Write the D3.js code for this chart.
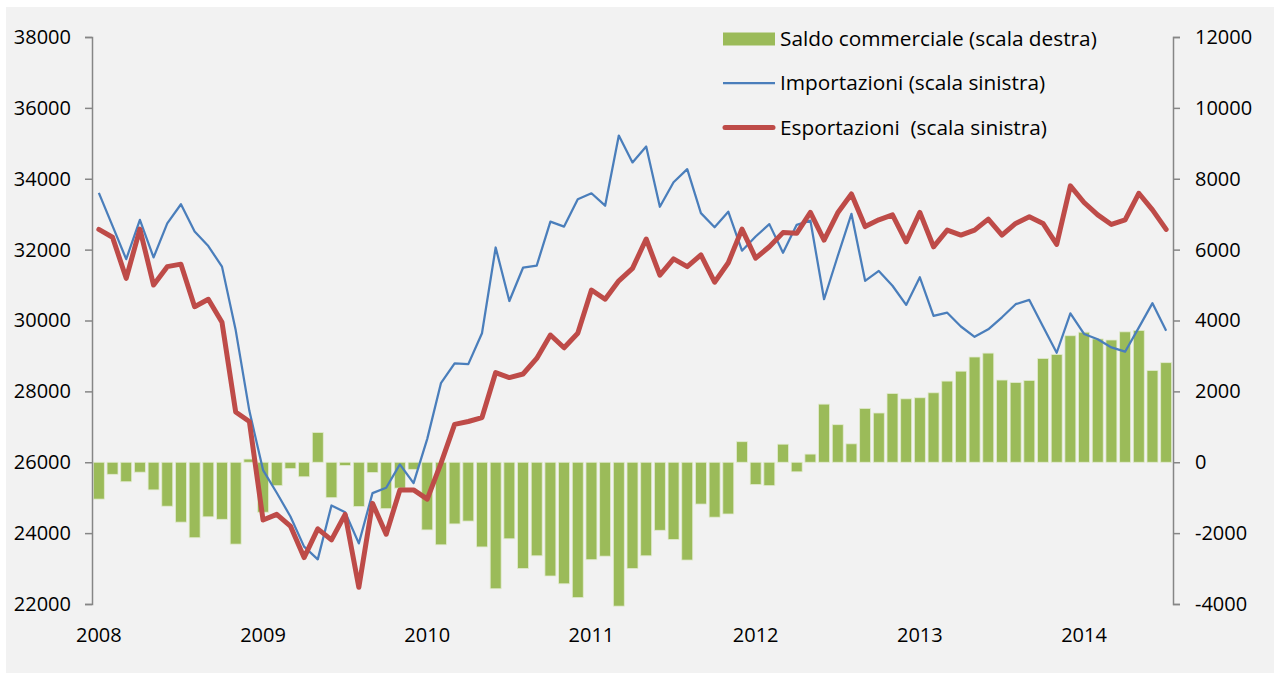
<!DOCTYPE html>
<html>
<head>
<meta charset="utf-8">
<script src="https://cdn.jsdelivr.net/npm/d3@7"></script>
<style>
  body { margin: 0; background: #fff; }
  text { font-family: "Open Sans", sans-serif; fill: #000; }
</style>
</head>
<body>
<div id="chart"></div>
<script>
const WIDTH = 1274;
const HEIGHT = 673;

// monthly data, Jan 2008 - Jul 2014
const years = ["2008", "2009", "2010", "2011", "2012", "2013", "2014"];

const importazioni = [
  33600, 32670, 31730, 32840, 31780, 32740, 33280, 32510, 32100, 31520, 29730, 27450,
  25780, 25140, 24470, 23620, 23260, 24780, 24590, 23710, 25130, 25280, 25940, 25410,
  26660, 28230, 28790, 28770, 29640, 32060, 30550, 31490, 31550, 32790, 32650, 33420,
  33590, 33240, 35220, 34460, 34910, 33210, 33900, 34270, 33030, 32630, 33070, 31970,
  32370, 32720, 31910, 32700, 32820, 30600, 31820, 33010, 31120, 31400, 30980, 30440,
  31220, 30130, 30220, 29830, 29540, 29750, 30090, 30460, 30580, 29830, 29090, 30200,
  29620, 29470, 29240, 29120, 29800, 30490, 29710
];

const esportazioni = [
  32570, 32350, 31190, 32580, 31000, 31520, 31590, 30390, 30600, 29950, 27420, 27150,
  24370, 24530, 24200, 23310, 24120, 23810, 24530, 22470, 24840, 23970, 25220, 25220,
  24960, 25970, 27070, 27150, 27260, 28530, 28390, 28490, 28930, 29590, 29230, 29640,
  30860, 30600, 31120, 31470, 32300, 31280, 31740, 31520, 31850, 31080, 31630, 32580,
  31760, 32080, 32480, 32460, 33050, 32270, 33040, 33570, 32650, 32840, 32980, 32220,
  33050, 32080, 32550, 32410, 32550, 32860, 32410, 32740, 32930, 32740, 32150, 33800,
  33330, 32980, 32710, 32840, 33590, 33120, 32570
];

const saldo = [
  -1040, -340, -550, -280, -780, -1240, -1690, -2130, -1540, -1610, -2310, 90,
  -1410, -660, -180, -410, 840, -1000, -90, -1250, -290, -1310, -730, -200,
  -1910, -2330, -1740, -1660, -2390, -3570, -2160, -3000, -2640, -3210, -3430, -3820,
  -2750, -2650, -4060, -3000, -2640, -1920, -2180, -2760, -1180, -1550, -1460, 580,
  -630, -660, 510, -270, 230, 1640, 1060, 520, 1520, 1390, 1940, 1790,
  1820, 1960, 2290, 2570, 2970, 3080, 2320, 2250, 2310, 2930, 3040, 3570,
  3670, 3480, 3450, 3680, 3720, 2590, 2810
];

const leftTicks = [22000, 24000, 26000, 28000, 30000, 32000, 34000, 36000, 38000];
const rightTicks = [-4000, -2000, 0, 2000, 4000, 6000, 8000, 10000, 12000];

const legendItems = [
  { label: "Saldo commerciale (scala destra)", type: "bar" },
  { label: "Importazioni (scala sinistra)", type: "imp" },
  { label: "Esportazioni  (scala sinistra)", type: "exp" }
];

const GREEN = "#9bbb59";
const BLUE = "#4a7ebb";
const RED = "#be4b48";
const AXIS = "#868686";

const X0 = 92, X1 = 1173;
const YTOP = 37, YBOT = 604;

const svg = d3.select("#chart").append("svg")
  .attr("width", WIDTH)
  .attr("height", HEIGHT);

svg.append("rect")
  .attr("x", 6).attr("y", 7)
  .attr("width", WIDTH - 6).attr("height", HEIGHT - 7)
  .attr("fill", "#f2f2f2");

const xScale = d3.scaleBand()
  .domain(d3.range(saldo.length))
  .range([X0, X1])
  .paddingInner(0.2)
  .paddingOuter(0.1);

const yLeft = d3.scaleLinear().domain([22000, 38000]).range([YBOT, YTOP]);
const yRight = d3.scaleLinear().domain([-4000, 12000]).range([YBOT, YTOP]);

const cx = i => xScale(i) + xScale.bandwidth() / 2;

// bars
svg.append("g")
  .selectAll("rect")
  .data(saldo)
  .join("rect")
  .attr("x", (d, i) => xScale(i))
  .attr("width", xScale.bandwidth())
  .attr("y", d => Math.min(yRight(d), yRight(0)))
  .attr("height", d => Math.abs(yRight(d) - yRight(0)))
  .attr("fill", GREEN)
  .attr("stroke", "#e2ebcf")
  .attr("stroke-width", 0.8);

// lines
const lineLeft = d3.line()
  .x((d, i) => cx(i))
  .y(d => yLeft(d));

svg.append("path")
  .datum(importazioni)
  .attr("d", lineLeft)
  .attr("fill", "none")
  .attr("stroke", BLUE)
  .attr("stroke-width", 2.25)
  .attr("stroke-linejoin", "round");

svg.append("path")
  .datum(esportazioni)
  .attr("d", lineLeft)
  .attr("fill", "none")
  .attr("stroke", RED)
  .attr("stroke-width", 5)
  .attr("stroke-linejoin", "round")
  .attr("stroke-linecap", "round");

// axes (plain hyphen for negatives, as in the original)
const fmt = d => String(d);

const leftAxis = svg.append("g")
  .attr("transform", "translate(" + X0 + ",0)")
  .call(d3.axisLeft(yLeft).tickValues(leftTicks).tickSize(7).tickPadding(14).tickSizeOuter(7)
    .tickFormat(fmt));

const rightAxis = svg.append("g")
  .attr("transform", "translate(" + X1 + ",0)")
  .call(d3.axisRight(yRight).tickValues(rightTicks).tickSize(7).tickPadding(15).tickSizeOuter(7)
    .tickFormat(fmt));

[leftAxis, rightAxis].forEach(g => {
  g.select(".domain").attr("stroke", AXIS).attr("stroke-width", 1.5);
  g.selectAll(".tick line").attr("stroke", AXIS).attr("stroke-width", 1.5);
  g.selectAll(".tick text")
    .style("font-family", "'Open Sans', sans-serif")
    .style("font-size", "20px")
    .attr("fill", "#000");
});

// year labels
svg.append("g")
  .selectAll("text")
  .data(years)
  .join("text")
  .attr("x", (d, i) => cx(i * 12))
  .attr("y", 642)
  .attr("text-anchor", "middle")
  .style("font-size", "20px")
  .text(d => d);

// legend
const legend = svg.append("g").attr("transform", "translate(723,0)");
const rowY = [39, 83, 127.5];

legendItems.forEach((item, k) => {
  const g = legend.append("g").attr("transform", "translate(0," + rowY[k] + ")");
  if (item.type === "bar") {
    g.append("rect").attr("x", 0).attr("y", -6.5).attr("width", 52).attr("height", 13).attr("fill", GREEN);
  } else if (item.type === "imp") {
    g.append("line").attr("x1", 0).attr("x2", 52).attr("stroke", BLUE).attr("stroke-width", 2.25);
  } else {
    g.append("line").attr("x1", 2).attr("x2", 50).attr("stroke", RED).attr("stroke-width", 5)
      .attr("stroke-linecap", "round");
  }
  g.append("text")
    .attr("x", 57)
    .attr("y", 0)
    .attr("dy", "0.35em")
    .style("font-size", "20.8px")
    .style("white-space", "pre")
    .attr("xml:space", "preserve")
    .text(item.label);
});
</script>
</body>
</html>
